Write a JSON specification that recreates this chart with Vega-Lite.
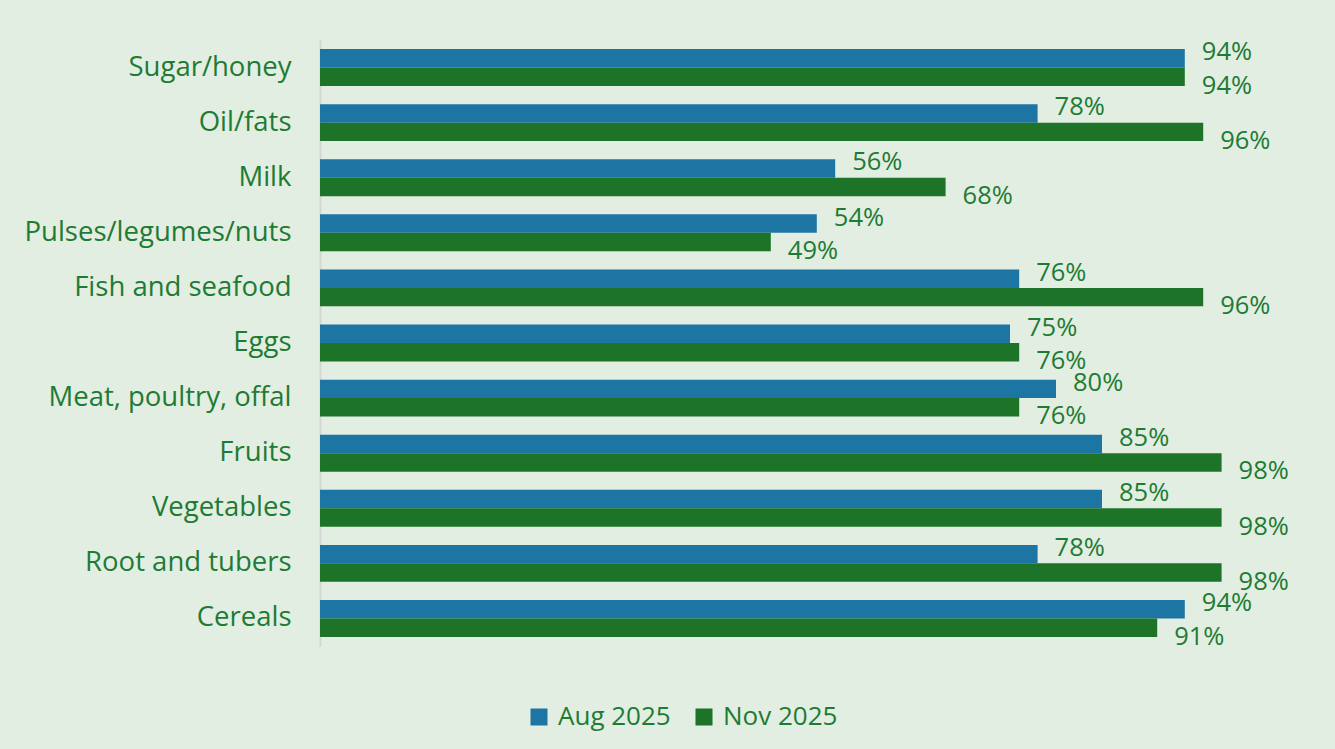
{
  "$schema": "https://vega.github.io/schema/vega-lite/v6.json",
  "autosize": "none",
  "width": 920,
  "height": 606,
  "padding": {"left": 320, "top": 40, "right": 95, "bottom": 103},
  "background": "#e2eee1",
  "config": {
    "view": {"stroke": null},
    "font": "Open Sans"
  },
  "data": {
    "values": [
      {"food": "Sugar/honey", "period": "Aug 2025", "pct": 94},
      {"food": "Sugar/honey", "period": "Nov 2025", "pct": 94},
      {"food": "Oil/fats", "period": "Aug 2025", "pct": 78},
      {"food": "Oil/fats", "period": "Nov 2025", "pct": 96},
      {"food": "Milk", "period": "Aug 2025", "pct": 56},
      {"food": "Milk", "period": "Nov 2025", "pct": 68},
      {"food": "Pulses/legumes/nuts", "period": "Aug 2025", "pct": 54},
      {"food": "Pulses/legumes/nuts", "period": "Nov 2025", "pct": 49},
      {"food": "Fish and seafood", "period": "Aug 2025", "pct": 76},
      {"food": "Fish and seafood", "period": "Nov 2025", "pct": 96},
      {"food": "Eggs", "period": "Aug 2025", "pct": 75},
      {"food": "Eggs", "period": "Nov 2025", "pct": 76},
      {"food": "Meat, poultry, offal", "period": "Aug 2025", "pct": 80},
      {"food": "Meat, poultry, offal", "period": "Nov 2025", "pct": 76},
      {"food": "Fruits", "period": "Aug 2025", "pct": 85},
      {"food": "Fruits", "period": "Nov 2025", "pct": 98},
      {"food": "Vegetables", "period": "Aug 2025", "pct": 85},
      {"food": "Vegetables", "period": "Nov 2025", "pct": 98},
      {"food": "Root and tubers", "period": "Aug 2025", "pct": 78},
      {"food": "Root and tubers", "period": "Nov 2025", "pct": 98},
      {"food": "Cereals", "period": "Aug 2025", "pct": 94},
      {"food": "Cereals", "period": "Nov 2025", "pct": 91}
    ]
  },
  "encoding": {
    "y": {
      "field": "food",
      "type": "nominal",
      "sort": null,
      "scale": {"paddingInner": 0.33, "paddingOuter": 0.165},
      "axis": {
        "title": null,
        "ticks": false,
        "grid": false,
        "domainColor": "#d6d6d6",
        "domainWidth": 2,
        "labelFont": "Open Sans",
        "labelFontSize": 27.5,
        "labelColor": "#1e7b34",
        "labelPadding": 29,
        "labelLimit": 400
      }
    },
    "yOffset": {"field": "period", "type": "nominal", "sort": ["Aug 2025", "Nov 2025"]},
    "x": {
      "field": "pct",
      "type": "quantitative",
      "scale": {"domain": [0, 100]},
      "axis": null
    }
  },
  "layer": [
    {
      "mark": {"type": "bar"},
      "encoding": {
        "color": {
          "field": "period",
          "type": "nominal",
          "scale": {"domain": ["Aug 2025", "Nov 2025"], "range": ["#1c75a3", "#1d7328"]},
          "legend": {
            "title": null,
            "orient": "none",
            "legendX": 206,
            "legendY": 664,
            "direction": "horizontal",
            "symbolType": "square",
            "symbolSize": 289,
            "symbolStrokeWidth": 0,
            "symbolOpacity": 1,
            "labelFont": "Open Sans",
            "labelFontSize": 26,
            "labelColor": "#1e7b34",
            "labelOffset": 6,
            "columnPadding": 20
          }
        }
      }
    },
    {
      "transform": [{"filter": "datum.period === 'Aug 2025'"}],
      "mark": {"type": "text", "align": "left", "baseline": "middle", "dx": 17, "dy": -6, "fontSize": 25.5, "font": "Open Sans", "color": "#1e7b34", "text": {"expr": "datum.pct + '%'"}},
      "encoding": {}
    },
    {
      "transform": [{"filter": "datum.period === 'Nov 2025'"}],
      "mark": {"type": "text", "align": "left", "baseline": "middle", "dx": 17, "dy": 9, "fontSize": 25.5, "font": "Open Sans", "color": "#1e7b34", "text": {"expr": "datum.pct + '%'"}},
      "encoding": {}
    }
  ]
}
